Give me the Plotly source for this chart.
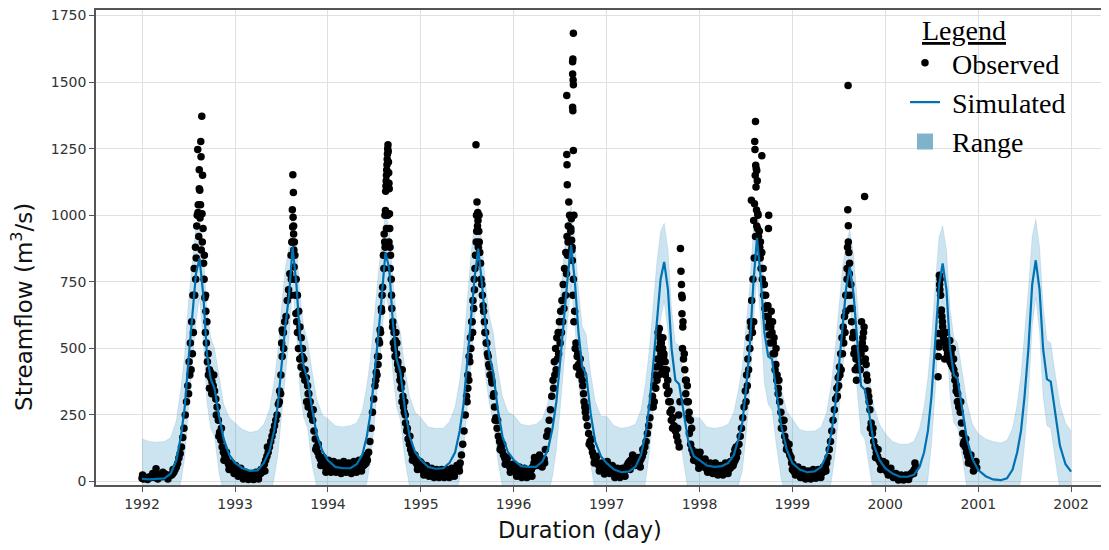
import pandas as pd
import plotly.graph_objects as go

# ---------------- data ----------------
X_TICKS = ['1992', '1993', '1994', '1995', '1996', '1997', '1998', '1999', '2000', '2001', '2002']
Y_TICKS = [0, 250, 500, 750, 1000, 1250, 1500, 1750]

# fraction of the year at which simulated / range values were read
KNOT_FRAC = [0.00, 0.08, 0.16, 0.24, 0.31, 0.37, 0.42, 0.46, 0.50, 0.54,
             0.58, 0.62, 0.66, 0.70, 0.74, 0.78, 0.83, 0.88, 0.94]

sim_1992 = [10, 8, 10, 12, 30, 80, 170, 280, 450, 610, 780, 838, 700, 480, 385, 350, 245, 160, 100]
sim_1993 = [70, 50, 40, 42, 70, 115, 190, 290, 430, 580, 700, 881, 740, 540, 430, 385, 270, 175, 115]
sim_1994 = [80, 55, 50, 50, 65, 100, 170, 260, 390, 540, 700, 860, 800, 600, 460, 410, 270, 170, 110]
sim_1995 = [82, 55, 48, 50, 70, 110, 190, 290, 450, 620, 770, 875, 740, 580, 470, 410, 270, 170, 110]
sim_1996 = [82, 58, 55, 55, 75, 120, 200, 300, 440, 610, 760, 888, 750, 560, 430, 405, 255, 150, 95]
sim_1997 = [69, 45, 35, 38, 55, 100, 180, 290, 430, 590, 760, 825, 720, 500, 380, 365, 250, 150, 95]
sim_1998 = [81, 60, 55, 58, 70, 100, 160, 220, 340, 500, 750, 915, 760, 560, 470, 460, 330, 210, 120]
sim_1999 = [69, 45, 35, 38, 55, 100, 180, 280, 420, 580, 730, 806, 700, 530, 360, 345, 250, 135, 80]
sim_2000 = [50, 30, 18, 18, 25, 55, 110, 190, 320, 520, 740, 819, 720, 500, 400, 385, 270, 160, 85]
sim_2001 = [43, 20, 8, 5, 12, 45, 110, 190, 320, 497, 740, 831, 720, 497, 385, 375, 250, 135, 65]

upper_1992 = [160, 150, 148, 150, 165, 230, 350, 480, 670, 830, 960, 1000, 860, 640, 540, 500, 390, 290, 240]
upper_1993 = [220, 195, 185, 190, 215, 270, 370, 490, 650, 800, 880, 1020, 890, 700, 580, 530, 410, 310, 250]
upper_1994 = [235, 210, 205, 210, 220, 265, 360, 470, 620, 770, 900, 1010, 950, 760, 610, 560, 420, 320, 260]
upper_1995 = [240, 205, 200, 200, 225, 280, 380, 500, 680, 850, 980, 1035, 890, 740, 620, 560, 420, 320, 260]
upper_1996 = [250, 215, 210, 215, 235, 295, 390, 510, 670, 840, 970, 1035, 900, 720, 580, 555, 405, 300, 245]
upper_1997 = [245, 210, 200, 205, 215, 270, 370, 500, 660, 820, 940, 970, 870, 650, 520, 510, 395, 295, 240]
upper_1998 = [240, 205, 200, 205, 215, 260, 345, 430, 570, 730, 950, 1045, 910, 710, 610, 600, 470, 350, 265]
upper_1999 = [235, 195, 188, 190, 205, 260, 365, 490, 640, 800, 900, 945, 850, 680, 500, 490, 390, 280, 215]
upper_2000 = [180, 150, 140, 140, 150, 200, 280, 390, 540, 740, 920, 960, 870, 650, 540, 520, 410, 300, 215]
upper_2001 = [180, 160, 150, 145, 155, 200, 290, 400, 550, 720, 920, 985, 880, 660, 530, 520, 400, 290, 220]

lower_1992 = [-140, -140, -140, -140, -120, -80, 0, 90, 260, 420, 600, 690, 530, 300, 200, 170, 30, -40, -80]
lower_1993 = [-90, -120, -140, -140, -110, -60, 10, 100, 240, 400, 540, 730, 570, 340, 240, 200, 60, -20, -70]
lower_1994 = [-90, -120, -130, -130, -115, -70, -5, 80, 210, 370, 540, 710, 640, 410, 280, 230, 80, -20, -70]
lower_1995 = [-90, -125, -130, -130, -110, -60, 10, 110, 270, 450, 610, 725, 580, 390, 290, 230, 80, -20, -70]
lower_1996 = [-90, -120, -125, -125, -105, -55, 20, 120, 260, 440, 600, 740, 590, 370, 250, 215, 65, -40, -90]
lower_1997 = [-110, -135, -145, -140, -125, -80, 0, 110, 250, 420, 610, 680, 560, 320, 200, 180, 60, -40, -90]
lower_1998 = [-100, -120, -125, -120, -110, -80, -20, 40, 160, 330, 590, 770, 600, 370, 290, 270, 130, 10, -60]
lower_1999 = [-110, -135, -145, -140, -125, -80, 0, 100, 240, 410, 580, 660, 540, 340, 180, 160, 50, -60, -110]
lower_2000 = [-130, -150, -160, -160, -150, -120, -60, 10, 140, 340, 580, 680, 560, 320, 220, 200, 90, -20, -90]
lower_2001 = [-130, -155, -165, -170, -160, -120, -60, 10, 140, 320, 580, 690, 560, 320, 210, 200, 80, -30, -100]

END_DATE = '2002-01-01'
sim_end, upper_end, lower_end = 37, 190, -120

# observed flow, one reading every 5 days starting at the given day of year
OBS_STEP = 5
obs_1992 = [12, 10, 14, 12, 15, 14, 18, 15, 20, 18, 15, 48, 28, 22, 20, 25, 18, 22, 28, 25, 20, 22, 25, 24,
            28, 35, 45, 55, 68, 88, 105, 130, 165, 200, 250, 300, 360, 450, 520, 600, 700, 800, 880, 960,
            1010, 1100, 1040, 1372, 950, 850, 700, 600, 480, 420, 390, 375, 360, 340, 310, 280, 230, 185,
            155, 130, 110, 100, 88, 75, 65, 58, 52, 45, 40]
obs_1993 = [40, 35, 30, 28, 25, 22, 20, 18, 18, 16, 15, 15, 14, 15, 16, 18, 20, 22, 25, 28, 30, 35,
            45, 65, 80, 95, 110, 130,
            150, 170, 190, 210, 230, 250, 290, 340, 400, 470, 560, 600, 620, 680, 720, 780, 850, 900, 960,
            850, 760, 700, 640, 580, 540, 500, 460, 420, 390, 360, 330, 300, 270, 230, 190, 160, 130, 110,
            95, 85, 75, 68, 60, 55, 50]
obs_1994 = [55, 58, 60, 55, 52, 50, 48, 50, 52, 48, 45, 47, 50, 52, 48, 46, 50, 52, 55, 50, 48, 52, 55, 50,
            48, 52, 55, 58, 60, 65, 70,
            80, 110, 150, 200, 260, 310, 360, 410, 470, 530, 570, 650, 730, 800, 880, 950, 1000, 900, 800,
            700, 600, 560, 530, 480, 450, 420, 400, 370, 320, 260, 220, 190, 160, 140, 120, 105, 92, 80,
            72, 65, 58, 52]
obs_1995 = [50, 45, 40, 38, 35, 32, 30, 30, 28, 28, 26, 25, 25, 26, 28, 30, 28, 27, 26, 28, 30, 32, 30, 28,
            30, 32, 35, 38, 40, 45, 55,
            70, 100, 140, 190, 250, 320, 400, 470, 540, 600, 680, 760, 850, 940, 980, 900, 820, 740, 660,
            600, 560, 520, 470, 430, 400, 370, 320, 280, 240, 200, 170, 150, 130, 115, 100, 88, 78, 70,
            62, 55, 50, 48]
obs_1996 = [40, 38, 35, 32, 30, 28, 28, 30, 32, 30, 28, 30, 35, 40, 45, 55, 70, 75, 80, 85, 82, 80, 78, 75,
            85, 120, 170, 190, 230, 270, 320,
            380, 450, 500, 540, 560, 600, 640, 680, 740, 800, 860, 920, 960, 1000, 940, 880, 760, 640, 520,
            470, 440, 420, 400, 380, 330, 280, 240, 210, 180, 150, 130, 110, 95, 85, 75, 68, 60, 55, 50,
            45, 42, 40]
obs_1997 = [55, 50, 45, 40, 35, 32, 30, 30, 28, 25, 28, 30, 32, 35, 40, 50, 60, 70, 75, 80, 85, 80, 75, 70,
            65, 70, 75, 85, 95,
            110, 130, 150, 180, 210, 240, 280, 320, 360, 400, 430, 460, 500, 540, 520, 500, 480, 450, 420,
            380, 340, 300, 270, 240, 210, 190, 170, 150, 130, 875, 700, 600, 480, 380, 300, 240, 180, 140,
            120, 105, 95, 85, 78, 70]
obs_1998 = [90, 80, 70, 60, 55, 50, 48, 45, 50, 55, 60, 50, 45, 40, 38, 35, 40, 45, 50, 55, 50, 45, 40, 45,
            50, 55, 60, 70, 80, 90,
            110, 140, 170, 200, 240, 280, 340, 400, 460, 540, 600, 680, 760, 840, 920, 960, 1000, 940, 900,
            860, 800, 740, 700, 660, 620, 600, 580, 560, 520, 480, 440, 400, 350, 300, 260, 230, 200, 170,
            150, 130, 115, 100, 90]
obs_1999 = [45, 40, 35, 32, 30, 28, 25, 22, 20, 22, 25, 28, 25, 22, 20, 22, 25, 28, 30, 28, 25, 28, 30, 32,
            35, 40, 50,
            70, 90, 120, 150, 190, 230, 270, 310, 350, 390, 430, 480, 540, 580, 620, 700, 800, 900, 820, 740,
            650, 560, 500, 460, 430, 420, 450, 480, 520, 560, 500, 440, 380, 320, 270, 220, 180, 150, 130,
            110, 95, 82, 72, 62, 55, 50]
obs_2000_a = [45, 40, 35, 30, 28, 25, 22, 20, 18, 16, 15, 14, 14, 15, 15, 14, 16, 18, 20, 22, 25, 30, 38, 45, 55]
obs_2000_b = [520, 720, 640, 600, 560, 520, 500, 480, 470, 450, 440, 430, 420, 400, 360, 330, 300, 260, 220,
              180, 150, 130, 110, 95, 85, 75, 68, 62, 58, 55, 52]

# additional scattered observations (day of year, flow)
obs_1992_extra = [(218, 1000), (220, 1247), (222, 1040), (224, 920), (226, 1171), (228, 1094), (229, 990),
                  (232, 1277), (233, 1220), (234, 870), (237, 1006), (238, 900), (239, 1150), (243, 820),
                  (245, 760), (248, 690), (250, 560), (252, 640), (254, 520), (258, 450), (262, 400),
                  (266, 350), (270, 410), (275, 330), (212, 760), (214, 840), (208, 700), (203, 560),
                  (199, 480), (194, 420), (189, 400), (184, 330),
                  (3, 25), (23, 8), (43, 30), (63, 10), (83, 35), (103, 10), (123, 45), (283, 400), (293, 250),
                  (303, 170), (313, 200), (323, 80), (333, 110), (343, 45), (353, 70), (363, 30)]
obs_1993_extra = [(226, 1021), (228, 1152), (229, 993), (230, 1086), (231, 930), (232, 870), (227, 956),
                  (224, 900), (233, 806), (234, 900), (222, 760), (219, 700), (236, 760), (238, 700),
                  (240, 631), (243, 600), (246, 560), (186, 569), (189, 560), (184, 520), (192, 500),
                  (250, 500), (255, 460), (260, 430), (265, 470), (268, 400), (275, 380), (282, 300),
                  (288, 280), (180, 330), (175, 300),
                  (3, 60), (13, 20), (23, 50), (33, 10), (43, 35), (53, 8), (63, 30), (73, 8), (83, 35),
                  (93, 10), (103, 45), (118, 40), (128, 130), (288, 330), (298, 250), (308, 270), (318, 120),
                  (328, 140), (338, 60), (348, 90), (358, 35)]
obs_1994_extra = [(228, 1090), (229, 1110), (230, 1130), (231, 1150), (232, 1170), (233, 1190), (234, 1210),
                  (235, 1230), (236, 1250), (237, 1265), (238, 1240), (239, 1200), (240, 1160), (241, 1120),
                  (242, 1100), (227, 1018), (225, 1000), (243, 1006), (244, 950), (222, 930), (224, 900),
                  (245, 880), (247, 850), (219, 850), (214, 700), (212, 640), (208, 560), (204, 520),
                  (200, 470), (198, 440), (194, 400), (189, 380), (250, 760), (252, 650), (255, 580),
                  (258, 520), (262, 500), (265, 470), (268, 560), (272, 520), (275, 440), (278, 420),
                  (284, 380), (288, 350), (292, 300), (298, 280), (305, 250),
                  (3, 80), (13, 35), (23, 75), (33, 35), (43, 70), (53, 30), (63, 75), (73, 35), (83, 70),
                  (93, 30), (103, 75), (113, 35), (123, 80), (133, 40), (143, 90), (153, 100), (293, 420),
                  (303, 300), (313, 200), (323, 170), (333, 80), (343, 100), (353, 45), (363, 75)]
obs_1995_extra = [(218, 1265), (222, 1050), (220, 1000), (224, 960), (219, 900), (227, 880), (229, 940),
                  (214, 800), (212, 720), (209, 650), (205, 560), (203, 600), (198, 500), (194, 450),
                  (190, 380), (186, 350), (183, 300), (233, 860), (238, 760), (243, 700), (248, 640),
                  (253, 560), (258, 520), (263, 480), (268, 440), (273, 400), (280, 380), (288, 330),
                  (230, 1000), (225, 1010),
                  (3, 70), (13, 25), (23, 60), (33, 20), (43, 50), (53, 15), (63, 45), (73, 15), (83, 45),
                  (93, 15), (103, 45), (113, 15), (123, 50), (133, 20), (143, 60), (153, 40), (293, 230),
                  (303, 230), (313, 120), (323, 140), (333, 65), (343, 90), (353, 35), (363, 65)]
obs_1996_extra = [(236, 1684), (234, 1587), (233, 1577), (233, 1531), (235, 1508), (236, 1490), (210, 1450),
                  (233, 1406), (234, 1393), (236, 1243), (210, 1228), (211, 1190), (212, 1115), (238, 1000),
                  (228, 987), (226, 950), (229, 906), (218, 1050), (230, 870), (232, 830), (215, 900),
                  (213, 850), (209, 780), (205, 700), (199, 650), (194, 600), (189, 560), (184, 520),
                  (178, 480), (173, 460), (168, 420), (163, 400), (158, 350), (234, 700), (238, 600),
                  (243, 500), (248, 430), (253, 480), (258, 400), (263, 460), (268, 420), (273, 360),
                  (278, 300), (283, 260),
                  (3, 60), (13, 20), (23, 55), (33, 15), (43, 50), (53, 15), (63, 45), (73, 20), (83, 90),
                  (93, 60), (103, 100), (113, 55), (123, 70), (288, 280), (298, 140), (308, 160), (318, 70),
                  (328, 95), (338, 40), (348, 70), (358, 28)]
obs_1997_extra = [(203, 560), (208, 575), (212, 520), (214, 480), (218, 460), (222, 540), (225, 470),
                  (228, 420), (232, 400), (219, 420), (210, 440), (206, 400), (199, 380), (194, 350),
                  (188, 300), (184, 280), (235, 360), (240, 330), (245, 300), (250, 260), (255, 230),
                  (260, 200), (293, 790), (295, 740), (298, 690), (297, 630), (300, 580), (299, 500),
                  (303, 460), (308, 420), (314, 380), (318, 360), (312, 330), (322, 300), (325, 260),
                  (330, 230), (335, 200), (289, 300), (284, 250), (280, 200),
                  (3, 75), (13, 30), (23, 60), (33, 15), (43, 50), (53, 15), (63, 50), (73, 20), (83, 60),
                  (93, 45), (103, 100), (113, 60), (123, 90), (133, 55), (143, 120), (343, 80), (353, 110),
                  (363, 50)]
obs_1998_extra = [(221, 1352), (218, 1277), (219, 1247), (246, 1224), (222, 1188), (224, 1175), (226, 1168),
                  (220, 1150), (228, 1130), (223, 1106), (205, 1056), (217, 1043), (225, 1020), (230, 1006),
                  (273, 1000), (272, 950), (214, 980), (229, 950), (233, 920), (238, 880), (240, 840),
                  (243, 800), (248, 760), (253, 700), (258, 650), (262, 620), (267, 580), (270, 660),
                  (275, 550), (278, 520), (283, 640), (288, 600), (290, 480), (294, 540), (298, 420),
                  (302, 500), (305, 380), (310, 330), (214, 600), (209, 560), (204, 580), (199, 500),
                  (194, 420), (189, 360), (184, 300), (135, 100), (140, 120), (145, 130),
                  (3, 110), (13, 60), (23, 85), (33, 35), (43, 70), (53, 30), (63, 70), (73, 25), (83, 60),
                  (93, 25), (103, 70), (113, 30), (123, 75), (133, 60), (143, 110), (313, 380), (323, 200),
                  (333, 230), (343, 120), (353, 140), (363, 70)]
obs_1999_extra = [(220, 1487), (219, 1021), (221, 961), (285, 1071), (218, 880), (223, 860), (216, 760),
                  (214, 700), (212, 640), (225, 780), (228, 700), (230, 650), (234, 600), (238, 540),
                  (243, 480), (248, 420), (253, 380), (258, 460), (263, 500), (268, 420), (273, 600),
                  (278, 540), (283, 580), (288, 460), (293, 400), (298, 340), (303, 300), (208, 560),
                  (203, 520), (198, 480), (193, 420), (188, 400), (183, 360), (178, 320),
                  (3, 65), (13, 25), (23, 55), (33, 15), (43, 45), (53, 10), (63, 40), (73, 10), (83, 45),
                  (93, 12), (103, 45), (113, 15), (123, 55), (133, 40), (308, 200), (318, 200), (328, 90),
                  (338, 120), (348, 45), (358, 75)]
obs_2000_extra = [(214, 775), (217, 760), (215, 740), (219, 700), (222, 644), (224, 620), (227, 581),
                  (212, 556), (213, 505), (210, 470), (209, 394), (230, 540), (235, 460), (240, 560),
                  (245, 520), (250, 500), (255, 530), (260, 480), (265, 500), (270, 460), (275, 380),
                  (280, 340), (285, 300), (290, 280),
                  (3, 70), (13, 25), (23, 50), (33, 15), (43, 30), (53, 6), (63, 25), (73, 6), (83, 25),
                  (93, 8), (103, 30), (113, 30), (118, 70), (298, 300), (308, 140), (318, 160), (328, 70),
                  (338, 100), (348, 40), (358, 75)]

# ---------------- assemble ----------------
SIM = {1992: sim_1992, 1993: sim_1993, 1994: sim_1994, 1995: sim_1995, 1996: sim_1996,
       1997: sim_1997, 1998: sim_1998, 1999: sim_1999, 2000: sim_2000, 2001: sim_2001}
UPPER = {1992: upper_1992, 1993: upper_1993, 1994: upper_1994, 1995: upper_1995, 1996: upper_1996,
         1997: upper_1997, 1998: upper_1998, 1999: upper_1999, 2000: upper_2000, 2001: upper_2001}
LOWER = {1992: lower_1992, 1993: lower_1993, 1994: lower_1994, 1995: lower_1995, 1996: lower_1996,
         1997: lower_1997, 1998: lower_1998, 1999: lower_1999, 2000: lower_2000, 2001: lower_2001}

f_dates, f_sim, f_up, f_lo = [], [], [], []
for yr in sorted(SIM):
    start = pd.Timestamp(yr, 1, 1)
    for k, fr in enumerate(KNOT_FRAC):
        f_dates.append(start + pd.Timedelta(days=round(fr * 365)))
        f_sim.append(SIM[yr][k])
        f_up.append(UPPER[yr][k])
        f_lo.append(LOWER[yr][k])
f_dates.append(pd.Timestamp(END_DATE))
f_sim.append(sim_end)
f_up.append(upper_end)
f_lo.append(lower_end)

segments = [(1992, 1, obs_1992), (1993, 1, obs_1993), (1994, 1, obs_1994), (1995, 1, obs_1995),
            (1996, 1, obs_1996), (1997, 1, obs_1997), (1998, 1, obs_1998), (1999, 1, obs_1999),
            (2000, 1, obs_2000_a), (2000, 211, obs_2000_b)]
extras = [(1992, obs_1992_extra), (1993, obs_1993_extra), (1994, obs_1994_extra), (1995, obs_1995_extra),
          (1996, obs_1996_extra), (1997, obs_1997_extra), (1998, obs_1998_extra), (1999, obs_1999_extra),
          (2000, obs_2000_extra)]
o_dates, o_vals = [], []
for yr, d0, vals in segments:
    for i, v in enumerate(vals):
        o_dates.append(pd.Timestamp(yr, 1, 1) + pd.Timedelta(days=d0 - 1 + OBS_STEP * i))
        o_vals.append(v)
for yr, pts in extras:
    for doy, v in pts:
        o_dates.append(pd.Timestamp(yr, 1, 1) + pd.Timedelta(days=doy - 1))
        o_vals.append(v)

BLUE = '#0072B2'
BAND = 'rgba(0,114,178,0.2)'

fig = go.Figure()
fig.add_trace(go.Scatter(x=f_dates, y=f_up, mode='lines', line=dict(color='rgba(0,114,178,0.12)', width=1),
                         showlegend=False, hoverinfo='skip'))
fig.add_trace(go.Scatter(x=f_dates, y=f_lo, mode='lines', line=dict(color='rgba(0,114,178,0.12)', width=1),
                         fill='tonexty', fillcolor=BAND, showlegend=False, hoverinfo='skip'))
fig.add_trace(go.Scatter(x=o_dates, y=o_vals, mode='markers', name='\u00a0Observed',
                         marker=dict(color='black', size=7.5)))
fig.add_trace(go.Scatter(x=f_dates, y=f_sim, mode='lines', name='\u00a0Simulated',
                         line=dict(color=BLUE, width=2.2)))
fig.add_trace(go.Scatter(x=[None], y=[None], mode='markers', name='\u00a0Range',
                         marker=dict(color='#7fb3cc', size=16, symbol='square')))

axis_font = dict(family='DejaVu Sans', size=14, color='#333333')
# the page adds an 8px body margin; the figure is sized so the plot lands where the reference has it
fig.update_layout(
    width=1101, height=542,
    margin=dict(l=88, r=0, t=2, b=65),
    paper_bgcolor='white', plot_bgcolor='white',
    xaxis=dict(type='date', range=['1991-07-04', '2002-05-30'],
               tickvals=[pd.Timestamp(int(t), 1, 1) for t in X_TICKS], ticktext=X_TICKS,
               showgrid=True, gridcolor='#e0e0e0', gridwidth=1, zeroline=False,
               showline=True, linecolor='#555555', linewidth=1.6, mirror=True,
               ticks='outside', ticklen=5, tickcolor='#555555', tickfont=axis_font,
               ticklabeloverflow='allow'),
    yaxis=dict(range=[-13, 1771], tickvals=Y_TICKS,
               showgrid=True, gridcolor='#e0e0e0', gridwidth=1, zeroline=False,
               showline=True, linecolor='#555555', linewidth=1.6,
               ticks='outside', ticklen=5, tickcolor='#555555', tickfont=axis_font,
               ticklabeloverflow='allow'),
    legend=dict(x=0.7986, y=0.941, xanchor='left', yanchor='top', traceorder='normal',
                font=dict(family='Liberation Serif', size=28, color='black'),
                bgcolor='rgba(0,0,0,0)', tracegroupgap=0),
    annotations=[
        dict(text='Streamflow (m<sup>3</sup>/s)', xref='paper', yref='paper', x=-0.0731, y=0.3747,
             xanchor='center', yanchor='middle',
             textangle=-90, showarrow=False, font=dict(family='DejaVu Sans', size=23, color='#111111')),
        dict(text='Duration (day)', xref='paper', yref='paper', x=0.4778, y=-0.0947,
             xanchor='center', yanchor='middle',
             showarrow=False, font=dict(family='DejaVu Sans', size=22.5, color='#111111')),
        dict(text='<u>Legend</u>', xref='paper', yref='paper', x=0.8569, y=0.9558,
             xanchor='center', yanchor='middle',
             showarrow=False, font=dict(family='Liberation Serif', size=28, color='black')),
    ],
)

fig.write_html('out.html')
